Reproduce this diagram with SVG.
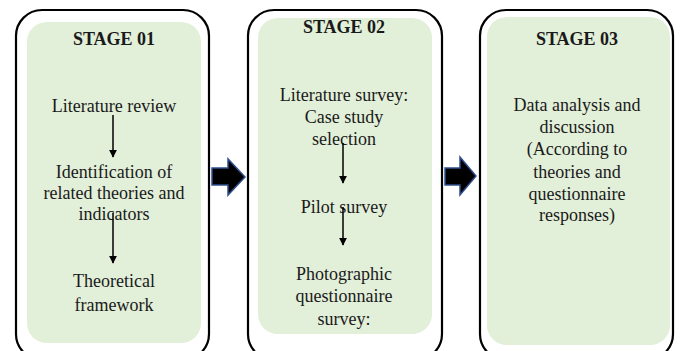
<svg xmlns="http://www.w3.org/2000/svg" width="680" height="351" viewBox="0 0 680 351">
<style>
.outer{fill:#ffffff;stroke:#000;stroke-width:2.2}
.inner{fill:#e2efd9;stroke:none}
text{font-family:"Liberation Serif","Times New Roman",serif;font-size:18px;fill:#1a1a1a;text-anchor:middle}
.h{font-weight:bold}
.c{stroke:#000;stroke-width:1.5;fill:none}
.blk{fill:#000;stroke:#2f4f8f;stroke-width:1.5}
</style>
<defs>
<marker id="ah" viewBox="0 0 10 10" refX="9" refY="5" markerWidth="8" markerHeight="8" markerUnits="userSpaceOnUse" orient="auto">
<path d="M0,0 L10,5 L0,10 Z" fill="#000"/>
</marker>
</defs>
<g id="stage1">
<rect class="outer" x="16" y="10" width="193" height="350" rx="26"/>
<rect class="inner" x="27" y="22" width="174" height="321" rx="20"/>
<text class="h" x="114" y="45">STAGE 01</text>
<text x="114" y="112">Literature review</text>
<text x="114" y="178">Identification of</text>
<text x="114" y="199">related theories and</text>
<text x="114" y="220">indicators</text>
<text x="114" y="287">Theoretical</text>
<text x="114" y="311">framework</text>
</g>
<g id="stage2">
<rect class="outer" x="248" y="10" width="194" height="350" rx="26"/>
<rect class="inner" x="258" y="18" width="174" height="316" rx="20"/>
<text class="h" x="344" y="33">STAGE 02</text>
<text x="344" y="101">Literature survey:</text>
<text x="344" y="123">Case study</text>
<text x="344" y="145">selection</text>
<text x="344" y="213">Pilot survey</text>
<text x="344" y="280">Photographic</text>
<text x="344" y="302">questionnaire</text>
<text x="344" y="325">survey:</text>
</g>
<g id="stage3">
<rect class="outer" x="480" y="10" width="193" height="350" rx="26"/>
<rect class="inner" x="487" y="17" width="183" height="328" rx="20"/>
<text class="h" x="577" y="45">STAGE 03</text>
<text x="577" y="111">Data analysis and</text>
<text x="577" y="133">discussion</text>
<text x="577" y="155">(According to</text>
<text x="577" y="178">theories and</text>
<text x="577" y="200">questionnaire</text>
<text x="577" y="221">responses)</text>
</g>
<g id="connectors">
<line class="c" x1="113" y1="115" x2="113" y2="157" marker-end="url(#ah)"/>
<line class="c" x1="113" y1="213" x2="113" y2="263" marker-end="url(#ah)"/>
<line class="c" x1="343" y1="143" x2="343" y2="183" marker-end="url(#ah)"/>
<line class="c" x1="343" y1="207" x2="343" y2="245" marker-end="url(#ah)"/>
<path class="blk" d="M212,168 L228,168 L228,159 L245,177 L228,195 L228,185 L212,185 Z"/>
<path class="blk" d="M445,168 L460,168 L460,157 L476,176 L460,195 L460,185 L445,185 Z"/>
</g>
</svg>
